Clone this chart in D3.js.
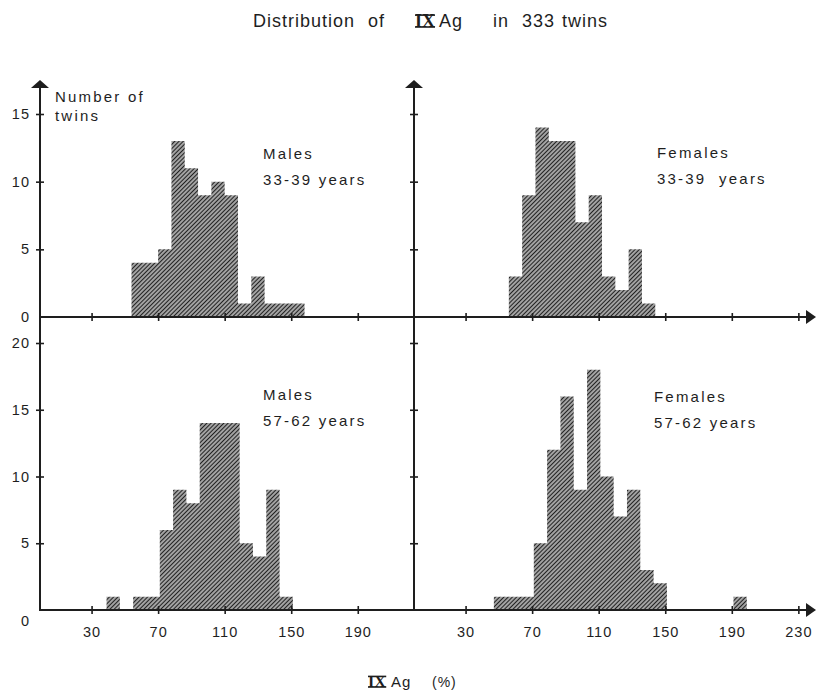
<!DOCTYPE html>
<html>
<head>
<meta charset="utf-8">
<script src="https://cdn.jsdelivr.net/npm/d3@7"></script>
<style>
  body { margin: 0; background: #fff; }
  svg text { font-family: "Liberation Sans", Arial, sans-serif; fill: #1e1e1e; }
  .tick-label { font-size: 14.5px; letter-spacing: 1px; }
  .note { font-size: 15px; letter-spacing: 2.2px; }
  .title { font-size: 18px; letter-spacing: 1px; }
  .roman { font-family: "Liberation Serif", "DejaVu Serif", serif !important; font-weight: bold; }
</style>
</head>
<body>
<div id="chart"></div>
<script>
// histogram bins are 8 units of IX Ag (%) wide, each panel has its own first edge
const binWidth = 8;

const malesYoungStart = 54;
const malesYoungCounts = [4, 4, 5, 13, 11, 9, 10, 9, 1, 3, 1, 1, 1];

const femalesYoungStart = 56;
const femalesYoungCounts = [3, 9, 14, 13, 13, 7, 9, 3, 2, 5, 1];

const malesOldStart = 39;
const malesOldCounts = [1, 0, 1, 1, 6, 9, 8, 14, 14, 14, 5, 4, 9, 1];

const femalesOldStart = 47;
const femalesOldCounts = [1, 1, 1, 5, 12, 16, 9, 18, 10, 7, 9, 3, 2, 0, 0, 0, 0, 0, 1];

const xTicksLeft = [30, 70, 110, 150, 190];
const xTicksRight = [30, 70, 110, 150, 190, 230];
const yTicksTop = [0, 5, 10, 15];
const yTicksBottom = [0, 5, 10, 15, 20];

const panelLabels = [
    ["Males", "33-39 years"],
    ["Females", "33-39  years"],
    ["Males", "57-62 years"],
    ["Females", "57-62 years"]
];

const ink = "#1e1e1e";
const width = 819, height = 698;

const svg = d3.select("#chart")
    .append("svg")
    .attr("width", width)
    .attr("height", height);

// hatching like the printed figure
svg.append("defs")
    .append("pattern")
    .attr("id", "hatch")
    .attr("patternUnits", "userSpaceOnUse")
    .attr("width", 3)
    .attr("height", 3)
    .attr("patternTransform", "rotate(45)")
    .append("line")
    .attr("x1", 1.5).attr("y1", 0)
    .attr("x2", 1.5).attr("y2", 3)
    .attr("stroke", "#222")
    .attr("stroke-width", 1.85);

const xLeft = d3.scaleLinear().domain([-1, 225]).range([40, 416]);
const xRight = d3.scaleLinear().domain([-1, 240]).range([414, 815]);
const yTop = d3.scaleLinear().domain([0, 15]).range([317, 114]);
const yBottom = d3.scaleLinear().domain([0, 20]).range([610, 343]);

const panels = [
    { start: malesYoungStart, counts: malesYoungCounts, x: xLeft, y: yTop, label: panelLabels[0], lx: 263, ly: 159 },
    { start: femalesYoungStart, counts: femalesYoungCounts, x: xRight, y: yTop, label: panelLabels[1], lx: 657, ly: 158 },
    { start: malesOldStart, counts: malesOldCounts, x: xLeft, y: yBottom, label: panelLabels[2], lx: 263, ly: 400 },
    { start: femalesOldStart, counts: femalesOldCounts, x: xRight, y: yBottom, label: panelLabels[3], lx: 654, ly: 402 }
];

// bars
panels.forEach((p) => {
    const pts = p.counts.map((n, i) => ({ v: p.start + i * binWidth, n: n }));
    pts.push({ v: p.start + p.counts.length * binWidth, n: 0 });
    const area = d3.area()
        .x((d) => p.x(d.v))
        .y0(p.y(0))
        .y1((d) => p.y(d.n))
        .curve(d3.curveStepAfter);
    svg.append("path")
        .datum(pts)
        .attr("d", area)
        .attr("fill", "url(#hatch)");

    const t = svg.append("text").attr("class", "note");
    t.append("tspan").attr("x", p.lx).attr("y", p.ly).text(p.label[0]);
    t.append("tspan").attr("x", p.lx).attr("y", p.ly + 26)
        .style("white-space", "pre").text(p.label[1]);
});

// x axes (ticks cross the base line)
function xAxis(scale, ticks, y, withLabels) {
    const g = svg.append("g")
        .attr("transform", `translate(0,${y})`)
        .call(d3.axisBottom(scale).tickValues(ticks).tickSize(4)
            .tickFormat(withLabels ? d3.format("d") : ""));
    g.attr("font-family", null).attr("font-size", null);
    g.select(".domain").remove();
    g.selectAll(".tick line")
        .attr("y1", -4).attr("y2", 4)
        .attr("stroke", ink).attr("stroke-width", 1.6);
    g.selectAll(".tick text")
        .attr("class", "tick-label")
        .attr("y", 17).attr("dy", "0.71em")
        .attr("fill", null);
}

function yAxis(scale, ticks, x, withLabels, lowZero) {
    const g = svg.append("g")
        .attr("transform", `translate(${x},0)`)
        .call(d3.axisLeft(scale).tickValues(ticks).tickSize(4)
            .tickFormat(withLabels ? d3.format("d") : ""));
    g.attr("font-family", null).attr("font-size", null);
    g.select(".domain").remove();
    g.selectAll(".tick line")
        .attr("x1", -4).attr("x2", 4)
        .attr("stroke", ink).attr("stroke-width", 1.6)
        .style("display", (d) => (d === 0 ? "none" : null));
    g.selectAll(".tick text")
        .attr("class", "tick-label")
        .attr("x", -10)
        .attr("dy", (d) => (lowZero && d === 0 ? "1.1em" : "0.32em"))
        .attr("fill", null);
}

xAxis(xLeft, xTicksLeft, yTop(0), false);
xAxis(xRight, xTicksRight, yTop(0), false);
xAxis(xLeft, xTicksLeft, yBottom(0), true);
xAxis(xRight, xTicksRight, yBottom(0), true);

yAxis(yTop, yTicksTop, xLeft(-1), true, false);
yAxis(yBottom, yTicksBottom, xLeft(-1), true, true);
yAxis(yTop, yTicksTop, xRight(-1), false, false);
yAxis(yBottom, yTicksBottom, xRight(-1), false, false);

// axis lines with arrows
const axisTop = 80;
const axisEnd = 816;
[xLeft(-1), xRight(-1)].forEach((x) => {
    svg.append("line")
        .attr("x1", x).attr("x2", x)
        .attr("y1", axisTop + 4).attr("y2", yBottom(0) + 1)
        .attr("stroke", ink).attr("stroke-width", 2);
    svg.append("path")
        .attr("d", `M${x},${axisTop}L${x + 9},${axisTop + 8}L${x - 9},${axisTop + 8}Z`)
        .attr("fill", ink);
});
[yTop(0), yBottom(0)].forEach((y) => {
    svg.append("line")
        .attr("x1", xLeft(-1)).attr("x2", axisEnd - 5)
        .attr("y1", y).attr("y2", y)
        .attr("stroke", ink).attr("stroke-width", 2);
    svg.append("path")
        .attr("d", `M${axisEnd},${y}L${axisEnd - 10},${y - 7}L${axisEnd - 10},${y + 7}Z`)
        .attr("fill", ink);
});

// y label
const yl = svg.append("text").attr("class", "note");
yl.append("tspan").attr("x", 55).attr("y", 102).text("Number of");
yl.append("tspan").attr("x", 55).attr("y", 121).text("twins");

// roman numeral with bars above and below
function roman(x, y, size) {
    const t = svg.append("text")
        .attr("class", "roman")
        .attr("x", x).attr("y", y)
        .style("font-size", size + "px")
        .text("IX");
    const bb = t.node().getBBox();
    const cap = size * 0.66;
    [y - cap, y].forEach((ly) => {
        svg.append("line")
            .attr("x1", bb.x).attr("x2", bb.x + bb.width)
            .attr("y1", ly).attr("y2", ly)
            .attr("stroke", ink).attr("stroke-width", 1.6);
    });
}

// title
const titleY = 27;
[["Distribution", 253], ["of", 368], ["Ag", 439], ["in", 493], ["333", 522], ["twins", 562]].forEach(([s, x]) => {
    svg.append("text").attr("class", "title").attr("x", x).attr("y", titleY).text(s);
});
roman(415, titleY, 18);

// x label
roman(368, 687, 16);
svg.append("text").attr("class", "tick-label").attr("x", 391).attr("y", 687).style("font-size", "15px").text("Ag");
svg.append("text").attr("class", "tick-label").attr("x", 432).attr("y", 687).style("font-size", "14px").text("(%)");
</script>
</body>
</html>
